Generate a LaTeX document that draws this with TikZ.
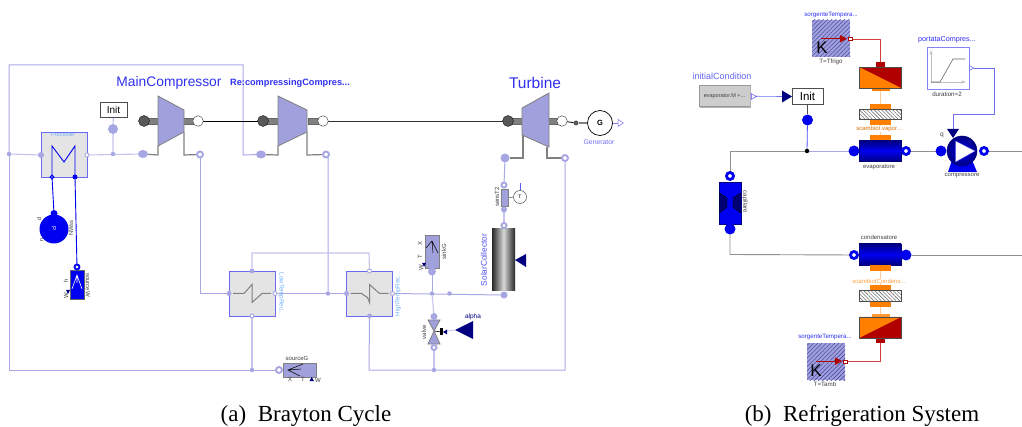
\documentclass[tikz,border=0pt]{standalone}
\usepackage{fontspec}
\setmainfont{Liberation Sans}
\newfontfamily\capfont{Liberation Serif}
\usetikzlibrary{backgrounds,patterns.meta,shapes.geometric}
\definecolor{wireL}{HTML}{A8A8E6}
\definecolor{wireP}{HTML}{C4C4EC}
\definecolor{portL}{HTML}{A6A6E2}
\definecolor{bodyL}{HTML}{A0A0DC}
\definecolor{edgeG}{HTML}{808080}
\definecolor{hxfill}{HTML}{E4E4E4}
\definecolor{hxedge}{HTML}{6A6AF0}
\definecolor{nameB}{HTML}{3030F0}
\definecolor{nameL}{HTML}{70B0FF}
\definecolor{navy}{HTML}{000080}
\definecolor{blueF}{HTML}{0000F0}
\definecolor{darkR}{HTML}{B00000}
\definecolor{orangeF}{HTML}{FF8000}
\definecolor{orangeW}{HTML}{FFCC99}
\definecolor{wireR}{HTML}{D04040}
\definecolor{wireG}{HTML}{909090}
\tikzset{
  every node/.style={inner sep=0pt,outer sep=0pt},
  pf/.style={circle,fill=portL,minimum size=#1},
  pf/.default=6pt,
  pr/.style={circle,fill=white,draw=portL,line width=1.9pt,minimum size=#1},
  pr/.default=5pt,
  jn/.style={circle,fill=portL,minimum size=4.5pt},
  wire/.style={draw=wireL,line width=1pt},
  pale/.style={draw=wireP,line width=1.1pt},
  bwire/.style={draw=blueF,line width=.9pt},
  gwire/.style={draw=wireG,line width=.9pt},
  lwire/.style={draw=wireL,line width=.9pt},
  hx/.style={draw=hxedge,fill=hxfill,line width=.7pt,minimum width=46pt,minimum height=45pt},
  gasbody/.style={fill=bodyL,draw=edgeG,line width=.8pt},
  shaftbar/.style={fill=edgeG,draw=black!60,line width=.2pt,minimum height=6pt},
  gasline/.style={draw=edgeG,line width=1.2pt},
  mainlab/.style={text=nameB,font=\fontsize{13.8}{14}\selectfont},
  midlab/.style={text=nameB,font=\fontsize{8.5}{9}\selectfont},
  tiny/.style={text=black!75,font=\fontsize{6}{6}\selectfont},
  tinyb/.style={text=nameL,font=\fontsize{6}{6}\selectfont},
  initbox/.style={draw=black!70,fill=white,line width=.6pt,align=center},
  bf/.style={circle,fill=blueF,minimum size=#1},
  bf/.default=11pt,
  br/.style={circle,fill=white,draw=blueF,line width=2.8pt,minimum size=#1},
  br/.default=7pt,
  tube/.style={top color=navy,bottom color=navy,middle color=blueF,draw=navy,line width=.5pt,minimum width=42pt,minimum height=21pt},
  pad/.style={fill=orangeF,minimum width=21pt,minimum height=5.5pt},
  hatchbox/.style={draw=black!70,line width=.5pt,minimum width=42pt,minimum height=10.5pt,pattern={Lines[angle=-45,distance=2.6pt,line width=.6pt]},pattern color=black!55},
  tsrc/.style={minimum width=38pt,minimum height=37pt,fill=bodyL,postaction={pattern={Lines[angle=45,distance=3pt,line width=.6pt]},pattern color=navy!70}},
  navytri/.style={fill=navy},
  caplab/.style={font=\capfont\fontsize{23}{23}\selectfont,text=black}
}
\begin{document}
\begin{tikzpicture}[x=1pt,y=-1pt]
\path[use as bounding box] (0,0) rectangle (1022,427);

% ===== Brayton: components =====
\node[hx] (pre) at (64,155) {};
\node[tinyb,font=\fontsize{5.5}{6}\selectfont] (preL) at (63,135) {Precooler};
\draw[blueF,line width=.9pt] (pre.center)+(-12,22) -- +(-12,-9) -- +(0,7) -- +(11,-9) -- +(11,22);
\node[pf] (preA) at (pre.west) {};
\node[pr=4pt,line width=.8pt] (preB) at (pre.east) {};
\node[br=3.5pt,line width=1.2pt] (preC) at (52,177) {};
\node[bf=5pt] (preD) at (75,177) {};
\node[jn] (j1) at (9,154) {};
\node[jn] (j2) at (113,154) {};
\node[initbox,minimum width=27pt,minimum height=15pt,font=\fontsize{10}{10}\selectfont] (init1) at (113.5,109.5) {Init};
\node[circle,fill=portL,minimum size=10pt] (initB) at (113,129) {};

% main compressor
\node[shaftbar,minimum width=16pt] (ms1) at (151,121) {};
\node[shaftbar,minimum width=16pt] (ms2) at (191,121) {};
\path[gasbody] (158,96) -- (184,110) -- (184,132) -- (158,146) -- cycle;
\node[circle,fill=black!65,draw=black,line width=.3pt,minimum size=11pt] (mL) at (144,121) {};
\node[circle,fill=white,draw=black!70,line width=.5pt,minimum size=10.5pt] (mR) at (198,121) {};
\node[pf=9pt,ellipse,minimum width=10pt,minimum height=8pt] (mIn) at (143,154) {};
\node[pr=6pt] (mOut) at (200,154.5) {};
\node[mainlab] (mLab) at (169,83) {MainCompressor};
\coordinate (mA) at (158,155);
\coordinate (mB) at (184,155);

% recompressor
\node[shaftbar,minimum width=16pt] (rs1) at (271,121) {};
\node[shaftbar,minimum width=16pt] (rs2) at (316,121) {};
\path[gasbody] (278,96) -- (307,110) -- (307,132) -- (278,146) -- cycle;
\node[circle,fill=black!65,draw=black,line width=.3pt,minimum size=11pt] (rL) at (263,121) {};
\node[circle,fill=white,draw=black!70,line width=.5pt,minimum size=10.5pt] (rR) at (323,121) {};
\node[pf,ellipse,minimum width=10pt,minimum height=8pt] (rIn) at (261,154.5) {};
\node[pr=6pt] (rOut) at (326,154.5) {};
\node[midlab,font=\bfseries\fontsize{9.2}{9}\selectfont] (rLab) at (290,83) {Re:compressingCompres...};
\coordinate (rA) at (278,155);
\coordinate (rB) at (307,155);

% turbine
\node[shaftbar,minimum width=16pt] (ts1) at (515,121) {};
\node[shaftbar,minimum width=16pt] (ts2) at (555,121) {};
\path[gasbody] (522,108) -- (549,93) -- (549,147) -- (522,135) -- cycle;
\node[circle,fill=black!65,draw=black,line width=.3pt,minimum size=11pt] (tL) at (508,121) {};
\node[circle,fill=white,draw=black!70,line width=.5pt,minimum size=10.5pt] (tR) at (562,121) {};
\node[pf,minimum size=9pt] (tIn) at (505,158) {};
\node[pr=6pt] (tOut) at (565,158) {};
\node[mainlab,font=\fontsize{15.5}{15}\selectfont] (tLab) at (535,83) {Turbine};
\coordinate (tA) at (523,158);
\coordinate (tB) at (547,158);

% generator
\node[circle,fill=black!65,minimum size=5pt] (gD) at (576,123) {};
\node[circle,draw=black,fill=white,line width=.7pt,minimum size=25pt,font=\bfseries\fontsize{7.5}{8}\selectfont] (gen) at (600,123) {G};
\node[draw=nameB!70,fill=white,isosceles triangle,isosceles triangle apex angle=70,minimum size=5pt,line width=.5pt] (gT) at (620,123) {};
\node[text=nameB!70,font=\fontsize{6.8}{7}\selectfont] (gLab) at (599,142) {Generator};

% sensor T2
\node[pr=5pt] (sT) at (504,185) {};
\node[fill=bodyL,draw=edgeG,line width=.3pt,minimum width=7pt,minimum height=17pt] (sB) at (504.5,197.5) {};
\node[pf] (sC) at (504,209.5) {};
\node[circle,draw=black!70,fill=white,line width=.5pt,minimum size=13pt,font=\fontsize{5}{5}\selectfont] (sM) at (520,197) {T};
\coordinate (sTop) at (520,183);
\node[tiny,rotate=90] (sLab) at (497,197) {sensT2};

% solar collector
\node[minimum width=23pt,minimum height=62pt,left color=black!85,right color=black!85,middle color=black!15] (sol) at (503.5,260) {};
\node[pr=5pt] (solT) at (504,225.5) {};
\node[pf=7pt] (solB) at (504,295) {};
\path[navytri] (515,260) -- (526,254) -- (526,267) -- cycle;
\node[midlab,rotate=90,font=\fontsize{8.3}{9}\selectfont,text=nameB!85] (solL) at (484,260) {SolarCollector};

% heat exchangers
\node[hx] (lt) at (252,293.5) {};
\draw[edgeG,line width=1pt] (lt.center)+(-19,0) -- +(-8,0) -- +(0,-9) -- +(0,9) -- +(10,0) -- +(19,0);
\node[pf=5pt] (ltA) at (lt.west) {};
\node[pr=4pt,line width=.9pt] (ltB) at (lt.east) {};
\node[pf=5pt] (ltC) at (lt.north) {};
\node[pr=4pt,line width=.9pt] (ltD) at (lt.south) {};
\node[tinyb,rotate=-90,font=\fontsize{6.2}{6}\selectfont] (ltL) at (281,294) {LowTempRec...};

\node[hx] (ht) at (369.5,293.5) {};
\draw[edgeG,line width=1pt] (ht.center)+(-19,0) -- +(-8,0) -- +(-2,4) -- +(0,9) -- +(0,-9) -- +(10,0) -- +(19,0);
\node[pf=5pt] (htA) at (ht.west) {};
\node[pr=4pt,line width=.9pt] (htB) at (ht.east) {};
\node[pr=4pt,line width=.9pt] (htC) at (ht.north) {};
\node[pf=5pt] (htD) at (ht.south) {};
\node[tinyb,rotate=90,font=\fontsize{6.2}{6}\selectfont] (htL) at (398,294) {HighTempRec...};

\node[jn] (j3) at (328,293.5) {};
\node[jn] (j4) at (432,293.5) {};
\node[jn] (j5) at (449.5,293.5) {};
\node[jn] (j6) at (252,370) {};
\node[jn] (j7) at (434,370) {};
\coordinate (topL) at (252,253);
\coordinate (topR) at (369,253);
\coordinate (botL) at (369,370);
\coordinate (botR) at (565,370);
\coordinate (outerTL) at (9,65);
\coordinate (outerTR) at (243,65);
\coordinate (outerBR) at (243,155);
\coordinate (outerBL) at (9,370);
\coordinate (ltv) at (200,293.5);
\coordinate (rbot) at (328,155);

% sink
\node[fill=bodyL,draw=edgeG,line width=.4pt,minimum width=14pt,minimum height=33pt] (sink) at (432,251.5) {};
\draw[black,line width=.5pt] (426,248) -- (432,241) -- (438,253) (432,241) -- (433,253);
\node[pf=8pt] (sinkP) at (432,271.5) {};
\node[tiny,rotate=90] (sinkL) at (444,252) {sinkG};
\node[tiny,rotate=90] (sinkX) at (420,244) {X};
\node[tiny,rotate=90] (sinkT) at (420,257) {T};
\node[tiny,rotate=90] (sinkW) at (421,268) {W};
\path[navy,fill=navy] (422,263) -- (426,263) -- (424,267) -- cycle;

% valve
\path[fill=bodyL,draw=edgeG,line width=.8pt] (428,320) -- (440,320) -- (434,331) -- cycle;
\path[fill=bodyL,draw=edgeG,line width=.8pt] (428,344) -- (440,344) -- (434,331) -- cycle;
\node[pf=7pt] (vT) at (434,316.5) {};
\node[pr=5pt] (vB) at (434,347.5) {};
\node (vC) at (434,331) {};
\node[fill=black,minimum width=3.5pt,minimum height=7pt] (vS) at (441.5,332) {};
\path[fill=navy] (443,332) -- (447,329.5) -- (447,334.5) -- cycle;
\node[tiny,rotate=90] (vL) at (424,332) {valve};
\path[navytri] (455,330) -- (473,321) -- (473,339) -- cycle;
\coordinate (alIn) at (455,330);
\node[text=navy,font=\fontsize{6.5}{6}\selectfont] (alL) at (473,317) {alpha};

% pump and source W
\node[circle,fill=blueF,minimum size=29pt] (pp) at (54,229) {};
\node[rotate=-90,text=white,font=\fontsize{6}{6}\selectfont] (ppP) at (54,229) {P};
\node[bf=7pt] (ppT) at (54,213.5) {};
\node[tiny,rotate=-90] (ppq) at (39,219) {p};
\node[tiny,rotate=-90] (ppu) at (42,240) {u};
\node[tiny,rotate=90,text=black!70] (ppS) at (71,228) {NWss};

\node[fill=blueF,draw=black!60,line width=.3pt,minimum width=14pt,minimum height=29pt] (swb) at (77,284.5) {};
\draw[white,line width=.6pt] (72,289) -- (77,275) -- (82,289) (77,275) -- (77,283);
\node[br=5pt,line width=1.8pt] (swP) at (77,267) {};
\node[tiny,rotate=-90] (swL) at (88,285) {sourceW};
\node[tiny,rotate=90] (swh) at (66,281) {h};
\node[tiny,rotate=90] (swW) at (66,296) {W};
\path[fill=navy] (66,290) -- (70,290) -- (68,294) -- cycle;

% source G
\node[fill=bodyL,draw=edgeG,line width=.3pt,minimum width=33pt,minimum height=14pt] (sg) at (299.5,370) {};
\draw[black,line width=.5pt] (303,364) -- (288,370) -- (300,376) (288,370) -- (301,369);
\node[pr=6pt] (sgP) at (279,370) {};
\node[tiny] (sgL) at (297,358) {sourceG};
\node[tiny] (sgX) at (290,379.5) {X};
\node[tiny] (sgT) at (303,379.5) {T};
\node[tiny] (sgW) at (318,380) {W};
\path[fill=navy] (309.5,381) -- (314,381) -- (311.7,377) -- cycle;

% ===== Refrigeration: components =====
\node[tsrc] (src1) at (831,38.5) {};
\node[midlab,font=\fontsize{6.2}{6}\selectfont] (src1L) at (831,15) {sorgenteTempera...};
\node[tiny,font=\fontsize{6.2}{6}\selectfont] (src1B) at (831,62) {T=Tfrigo};
\node[text=black,font=\fontsize{17}{17}\selectfont] (src1K) at (822,48) {K};
\node[rectangle,draw=darkR,fill=white,line width=.5pt,minimum size=3.5pt] (src1P) at (850,39) {};
\coordinate (src1A) at (821,38.5);
\draw[darkR,line width=.7pt] (src1A) -- (840,38.5);
\path[fill=darkR] (840,35) -- (847,38.7) -- (840,42.5) -- cycle;

\node[fill=darkR,minimum width=9pt,minimum height=5pt] (tc1N) at (880.5,65) {};
\node[fill=orangeF,minimum width=18pt,minimum height=3.5pt] (tc1S) at (880.5,89.5) {};
\path[fill=darkR] (859,67) rectangle (901,88);
\path[fill=orangeF] (859,67) -- (901,88) -- (859,88) -- cycle;
\node[draw=black!70,line width=.5pt,minimum width=42pt,minimum height=21pt] (tc1) at (880,77.5) {};
\node[pad] (pa1) at (880.5,106.5) {};
\node[hatchbox] (hb1) at (880,114.5) {};
\node[pad] (pa2) at (880.5,122.5) {};
\node[text=orangeF!85!black,font=\fontsize{6}{6}\selectfont,fill=white,inner xsep=1pt] (sc1L) at (879,129) {scambioI.vapor...};
\node[pad,minimum height=6pt] (pa3) at (880.5,138) {};
\node[tube] (ev) at (880,151) {};
\node[bf] (evA) at (854,151) {};
\node[br] (evB) at (906,151) {};
\node[tiny,font=\fontsize{6}{6}\selectfont] (evL) at (879,167.5) {evaporatore};

\node[fill=hxfill!90!black,draw=black!40,line width=.4pt,minimum width=51pt,minimum height=21pt,font=\fontsize{5.5}{6}\selectfont,text=black!75] (ic) at (724.5,96) {evaporator.M +...};
\draw[black!30,line width=.8pt] (700,107) -- (750.5,107) -- (750.5,86);
\node[midlab,font=\fontsize{9}{9}\selectfont,text=nameB!75] (icL) at (722,76) {initialCondition};
\node[draw=nameB!80,fill=white,isosceles triangle,isosceles triangle apex angle=60,minimum size=5pt,line width=.5pt] (icO) at (753,96.5) {};
\path[navytri] (782,90.5) -- (792,96.5) -- (782,102.5) -- cycle;
\coordinate (initIn) at (782,96.5);
\node[initbox,minimum width=31pt,minimum height=16pt,font=\fontsize{11.5}{11}\selectfont] (init2) at (807.5,96) {Init};
\node[bf] (init2B) at (807.5,120) {};
\node[circle,fill=black,minimum size=4.5pt] (j8) at (807,151) {};
\coordinate (capTop) at (730,151);

\node[fill=blueF,draw=navy,line width=.4pt,minimum width=21.5pt,minimum height=42pt] (cap) at (730,203) {};
\path[fill=navy!90!black,draw=black,line width=.3pt] (719.5,193) -- (727,198) -- (727,207) -- (719.5,213) -- cycle;
\path[fill=navy!90!black,draw=black,line width=.3pt] (740.5,193) -- (733,198) -- (733,207) -- (740.5,213) -- cycle;
\node[br] (capA) at (730,176) {};
\node[bf] (capB) at (730,229) {};
\node[tiny,rotate=-90,font=\fontsize{6}{6}\selectfont] (capL) at (745,202) {capillare};
\coordinate (capBot) at (730,254.5);

\node[tube] (co) at (880,254.5) {};
\node[br] (coA) at (854,255) {};
\node[bf] (coB) at (906,255) {};
\node[tiny,font=\fontsize{6}{6}\selectfont] (coL) at (879,237) {condensatore};
\coordinate (coEnd) at (1022,255);
\coordinate (evEnd) at (1022,151);

\node[pad] (pb1) at (880.5,268) {};
\node[text=orangeF!75,font=\fontsize{6}{6}\selectfont,fill=white,inner xsep=1pt] (sc2L) at (879,281) {scambioICondens...};
\node[pad] (pb2) at (880.5,288) {};
\node[hatchbox] (hb2) at (880,296) {};
\node[pad] (pb3) at (880.5,304.5) {};

\node[fill=orangeF!80,minimum width=18pt,minimum height=3.5pt] (tc2N) at (880.5,315.5) {};
\node[fill=darkR,minimum width=9pt,minimum height=5pt] (tc2S) at (880.5,340.5) {};
\path[fill=darkR] (859,317) rectangle (901,338);
\path[fill=orangeF] (859,317) -- (901,317) -- (859,338) -- cycle;
\node[draw=black!70,line width=.5pt,minimum width=42pt,minimum height=21pt] (tc2) at (880,327.5) {};

\node[tsrc] (src2) at (826,361.5) {};
\node[midlab,font=\fontsize{6.2}{6}\selectfont] (src2L) at (825,337) {sorgenteTempera...};
\node[tiny,font=\fontsize{6.2}{6}\selectfont] (src2B) at (825,384) {T=Tamb};
\node[text=black,font=\fontsize{17}{17}\selectfont] (src2K) at (816,371) {K};
\node[rectangle,draw=darkR,fill=white,line width=.5pt,minimum size=3.5pt] (src2P) at (845,361.5) {};
\coordinate (src2A) at (816,361);
\draw[darkR,line width=.7pt] (src2A) -- (836,361);
\path[fill=darkR] (835,357.5) -- (842,361) -- (835,365) -- cycle;
\coordinate (r1) at (880.5,39);
\coordinate (r2) at (880.5,361.5);

% compressor
\path[fill=blueF] (952,160) -- (972,160) -- (977,172) -- (948,172) -- cycle;
\node[circle,inner color=blueF,outer color=navy,draw=navy,line width=.5pt,minimum size=30pt] (cp) at (962,151) {};
\path[fill=white,draw=blueF!60,line width=.3pt] (955.5,141) -- (975,151) -- (955.5,162) -- cycle;
\node[bf] (cpA) at (941,151) {};
\node[br] (cpB) at (984,151) {};
\path[navytri] (947,129) -- (959,129) -- (953,138) -- cycle;
\coordinate (cpIn) at (953,129);
\node[tiny,font=\fontsize{6.5}{6}\selectfont] (cpQ) at (942,135.5) {q};
\node[tiny,font=\fontsize{6}{6}\selectfont] (cpL) at (962,176) {compressore};

\node[draw=nameB!60,fill=white,line width=.7pt,minimum width=42pt,minimum height=42pt] (ramp) at (948,68) {};
\draw[black!25,line width=.5pt,-latex] (931,82) -- (966,82);
\draw[black!25,line width=.5pt,-latex] (931,82) -- (931,50);
\draw[black!60,line width=.6pt] (931,82) -- (940,82) -- (953,59) -- (965,59);
\node[midlab,font=\fontsize{7.2}{7}\selectfont] (rampL) at (947,40) {portataCompres...};
\node[tiny,font=\fontsize{6.2}{6}\selectfont] (rampB) at (947,94.5) {duration=2};
\node[draw=nameB!80,fill=white,isosceles triangle,isosceles triangle apex angle=60,minimum size=4pt,line width=.5pt] (rampO) at (971,68) {};
\coordinate (ra) at (994,68);
\coordinate (rb) at (994,114);
\coordinate (rc) at (953,114);

% captions
\node[caplab] (capA1) at (306,416) {(a)\ \ Brayton Cycle};
\node[caplab] (capB1) at (862,416) {(b)\ \ Refrigeration System};

% ===== connectors =====
\begin{scope}[on background layer]
\fill[white] (0,0) rectangle (1022,427);
\draw[pale] (j1) -- (preA);
\draw[wire] (j1) -- (outerTL) -- (outerTR) -- (outerBR) -- (rIn);
\draw[wire] (j1) -- (outerBL) -- (sgP);
\draw[pale] (preB) -- (mIn);
\draw[pale] (init1) -- (initB) -- (j2);
\draw[wire] (mOut) -- (mOut |- ltv) -- (ltA);
\draw[wire] (rOut) -- (rbot -| j3) -- (j3);
\draw[wire] (ltB) -- (j3) -- (htA);
\draw[pale] (ltC) -- (topL) -- (topR) -- (htC);
\draw[pale] (ltD) -- (j6);
\draw[wire] (htD) -- (botL) -- (j7) -- (botR) -- (tOut);
\draw[wire] (htB) -- (solB);
\draw[wire] (sinkP) -- (j4);
\draw[pale] (j4) -- (vT);
\draw[pale] (vB) -- (j7);
\draw[wire] (tIn) -- (sT);
\draw[pale] (sC) -- (solT);
\draw[black!70,line width=.5pt] (sM) -- (sB);
\draw[nameB!80,line width=.5pt] (sM) -- (sTop);
\draw[black,line width=.6pt] (vC.center) -- (vS);
\draw[wireP,line width=.8pt] (alIn) -- (vS);
\draw[bwire] (preC) -- (ppT);
\draw[bwire] (preD) -- (swP);
% mechanical
\draw[black,line width=.9pt] (mR) -- (rL);
\draw[black!80,line width=.9pt] (rR) -- (tL);
\draw[black,line width=.8pt] (tR) -- (gD);
\draw[edgeG,line width=1.5pt] (gD) -- (gen);
\draw[nameB!60,line width=.6pt] (gen) -- (gT);
% gas stubs
\draw[gasline] (mIn) -- (mA) -- ++(0,-9);
\draw[gasline] (mOut) -- (mB) -- ++(0,-23);
\draw[gasline] (rIn) -- (rA) -- ++(0,-9);
\draw[gasline] (rOut) -- (rB) -- ++(0,-23);
\draw[gasline] (tIn) -- (tA) -- ++(0,-23);
\draw[gasline] (tOut) -- (tB) -- ++(0,-11);
% refrigeration
\draw[wireR,line width=.8pt] (src1P) -- (r1) -- (tc1N);
\draw[wireR,line width=.8pt] (src2P) -- (r2) -- (tc2S);
\draw[orangeW,line width=1pt] (tc1S) -- (pa1) (pa2) -- (pa3);
\draw[orangeW,line width=1pt] (pb1) -- (pb2) (pb3) -- (tc2N);
\draw[lwire,draw=nameB!70,line width=.6pt] (ic) -- (initIn);
\draw[black!70,line width=.7pt] (init2) -- (init2B);
\draw[blueF!70,line width=.8pt] (init2B) -- (j8);
\draw[gwire] (j8) -- (capTop) -- (capA);
\draw[lwire] (j8) -- (evA);
\draw[gwire] (evB) -- (cpA);
\draw[gwire] (cpB) -- (evEnd);
\draw[gwire] (capB) -- (capBot) -- (coA);
\draw[gwire] (coB) -- (coEnd);
\draw[nameB!70,line width=.6pt] (rampO) -- (ra) -- (rb) -- (rc) -- (cpIn);
\end{scope}
\end{tikzpicture}
\end{document}
